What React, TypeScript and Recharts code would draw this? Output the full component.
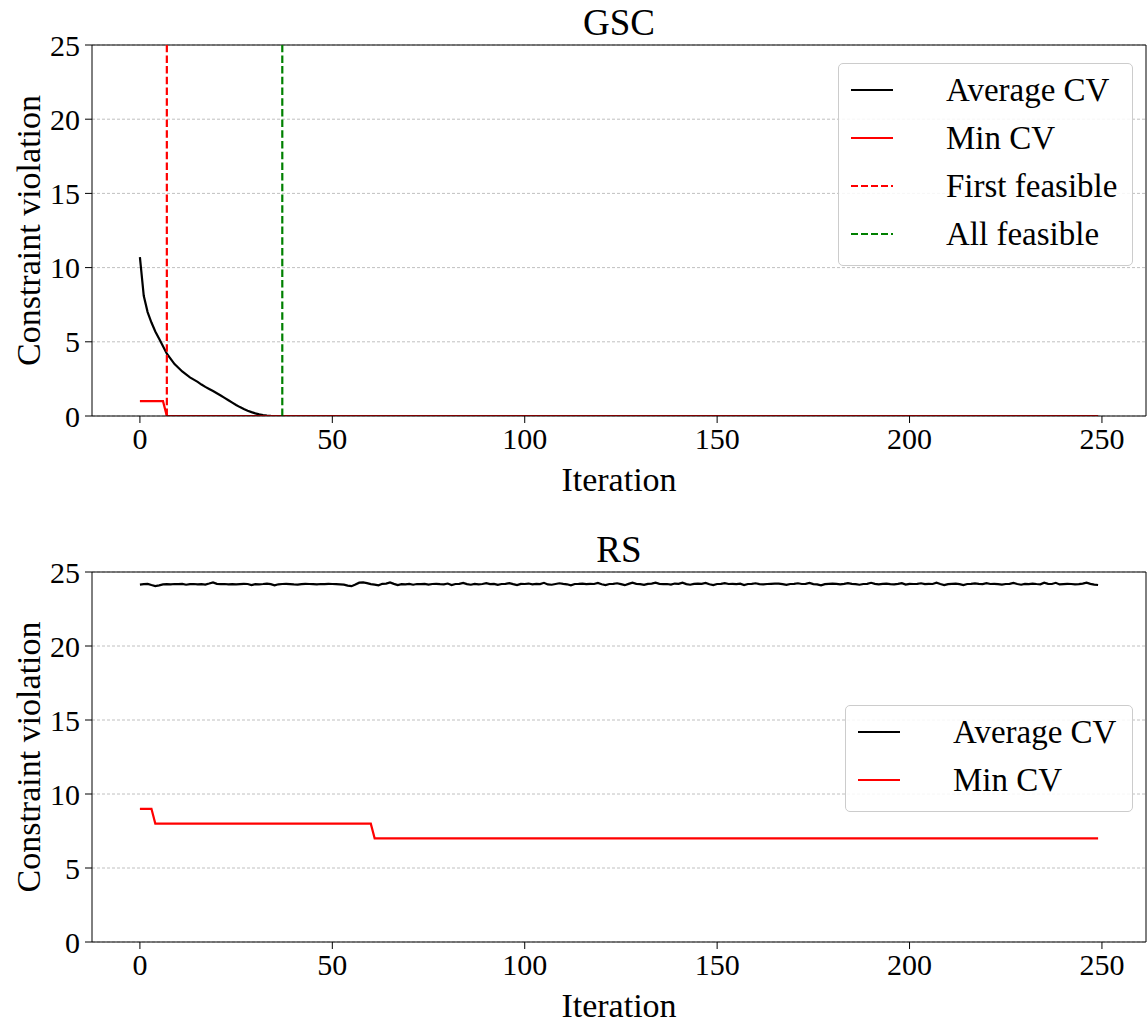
import React from "react"
import { LineChart, Line, XAxis, YAxis, CartesianGrid, ReferenceLine } from "recharts"

const FONT = "'Liberation Serif', 'DejaVu Serif', serif"

const xTicks = [0, 50, 100, 150, 200, 250]
const yTicks = [0, 5, 10, 15, 20, 25]
const xDomain = [-12.45, 261.45]

// GSC: average constraint violation, read per iteration until it reaches zero, then flat
const gscAvgIter = [0, 1, 2, 3, 4, 5, 6, 7, 8, 9, 10, 11, 12, 13, 14, 15, 16, 17, 18, 19, 20, 21, 22, 23, 24, 25, 26, 27, 28, 29, 30, 31, 32, 33, 34, 35, 249]
const gscAvgCv = [10.7, 8.1, 7.0, 6.3, 5.7, 5.2, 4.7, 4.2, 3.85, 3.5, 3.25, 3.0, 2.8, 2.6, 2.45, 2.3, 2.12, 1.96, 1.82, 1.68, 1.53, 1.38, 1.22, 1.06, 0.9, 0.74, 0.6, 0.47, 0.36, 0.26, 0.18, 0.11, 0.06, 0.03, 0.01, 0, 0]

// GSC: min CV breakpoints
const gscMinIter = [0, 6, 7, 249]
const gscMinCv = [1, 1, 0, 0]

const gscFirstFeasible = 7
const gscAllFeasible = 37

// RS: average CV per iteration (0..249)
const rsAvgCv = [
  24.15, 24.18, 24.2, 24.12, 24.05, 24.1, 24.16, 24.18, 24.17, 24.19, 24.18, 24.2, 24.14, 24.18, 24.19, 24.17, 24.18, 24.15, 24.22, 24.3, 24.2, 24.18, 24.19, 24.17, 24.18,
  24.16, 24.18, 24.2, 24.19, 24.12, 24.18, 24.17, 24.19, 24.22, 24.18, 24.1, 24.17, 24.19, 24.2, 24.18, 24.16, 24.15, 24.18, 24.2, 24.19, 24.18, 24.17, 24.19, 24.18, 24.2,
  24.19, 24.18, 24.17, 24.15, 24.08, 24.04, 24.15, 24.28, 24.3, 24.25, 24.18, 24.15, 24.1, 24.2, 24.22, 24.3, 24.2, 24.12, 24.18, 24.16, 24.2, 24.14, 24.19, 24.18, 24.2,
  24.15, 24.19, 24.2, 24.18, 24.17, 24.22, 24.12, 24.19, 24.2, 24.26, 24.18, 24.14, 24.2, 24.17, 24.19, 24.24, 24.18, 24.2, 24.13, 24.19, 24.2, 24.25, 24.18, 24.12, 24.2,
  24.19, 24.22, 24.17, 24.2, 24.18, 24.27, 24.16, 24.14, 24.19, 24.24, 24.2, 24.17, 24.1, 24.19, 24.2, 24.22, 24.18, 24.2, 24.19, 24.26, 24.17, 24.12, 24.19, 24.2, 24.24,
  24.18, 24.11, 24.2, 24.28, 24.2, 24.18, 24.13, 24.2, 24.22, 24.28, 24.2, 24.18, 24.19, 24.15, 24.22, 24.2, 24.28, 24.18, 24.14, 24.2, 24.22, 24.2, 24.26, 24.17, 24.12,
  24.19, 24.2, 24.25, 24.19, 24.2, 24.18, 24.21, 24.12, 24.19, 24.2, 24.24, 24.18, 24.17, 24.19, 24.2, 24.21, 24.22, 24.18, 24.13, 24.19, 24.2, 24.24, 24.19, 24.2, 24.26,
  24.18, 24.16, 24.1, 24.18, 24.2, 24.22, 24.2, 24.17, 24.2, 24.25, 24.2, 24.18, 24.14, 24.19, 24.2, 24.27, 24.2, 24.17, 24.2, 24.22, 24.18, 24.17, 24.2, 24.25, 24.15,
  24.2, 24.19, 24.2, 24.24, 24.18, 24.2, 24.19, 24.28, 24.19, 24.12, 24.18, 24.2, 24.22, 24.18, 24.12, 24.19, 24.2, 24.23, 24.2, 24.18, 24.24, 24.19, 24.2, 24.18, 24.15,
  24.19, 24.2, 24.26, 24.19, 24.14, 24.2, 24.18, 24.22, 24.19, 24.17, 24.28, 24.2, 24.19, 24.27, 24.16, 24.18, 24.2, 24.19, 24.17, 24.18, 24.22, 24.28, 24.2, 24.15, 24.12,
]

// RS: min CV breakpoints
const rsMinIter = [0, 3, 4, 60, 61, 249]
const rsMinCv = [9, 9, 8, 8, 7, 7]

const gscLegend = [
  { label: "Average CV", color: "#000000", dashed: false },
  { label: "Min CV", color: "#ff0000", dashed: false },
  { label: "First feasible", color: "#ff0000", dashed: true },
  { label: "All feasible", color: "#008000", dashed: true },
]
const rsLegend = gscLegend.slice(0, 2)

const toPoints = (iters: number[], vals: number[]) => iters.map((it, i) => ({ iteration: it, cv: vals[i] }))

const gscAvg = toPoints(gscAvgIter, gscAvgCv)
const gscMin = toPoints(gscMinIter, gscMinCv)
const rsAvg = toPoints(rsAvgCv.map((_, i) => i), rsAvgCv)
const rsMin = toPoints(rsMinIter, rsMinCv)

type Entry = { label: string; color: string; dashed: boolean }

function LegendBox({ entries, top, left, width }: { entries: Entry[]; top: number; left: number; width: number }) {
  return (
    <div
      style={{
        position: "absolute",
        top,
        left,
        width,
        boxSizing: "border-box",
        border: "1px solid #cccccc",
        borderRadius: 5,
        background: "rgba(255,255,255,0.85)",
        padding: "2px 0 7px 12px",
        fontFamily: FONT,
      }}
    >
      {entries.map((e) => (
        <div key={e.label} style={{ display: "flex", alignItems: "center", height: 48 }}>
          <svg width={42} height={6} style={{ marginRight: 53, flex: "none" }}>
            <line x1={0} y1={3} x2={42} y2={3} stroke={e.color} strokeWidth={2.2} strokeDasharray={e.dashed ? "7 3" : undefined} />
          </svg>
          <span style={{ fontSize: 33, color: "#000", whiteSpace: "nowrap" }}>{e.label}</span>
        </div>
      ))}
    </div>
  )
}

const tickStyle = { fontSize: 30, fill: "#000", fontFamily: FONT }

const xLabel = ({ viewBox }: any) => (
  <text x={viewBox.x + viewBox.width / 2} y={viewBox.y + 75} textAnchor="middle" fontSize={34} fontFamily={FONT} fill="#000">
    Iteration
  </text>
)

const yLabel = ({ viewBox }: any) => {
  const cx = 28
  const cy = viewBox.y + viewBox.height / 2
  return (
    <text x={cx} y={cy} transform={`rotate(-90, ${cx}, ${cy})`} textAnchor="middle" dominantBaseline="central" fontSize={34} fontFamily={FONT} fill="#000">
      Constraint violation
    </text>
  )
}

function Panel({
  height,
  margin,
  avg,
  min,
  vlines,
}: {
  height: number
  margin: { top: number; right: number; left: number; bottom: number }
  avg: { iteration: number; cv: number }[]
  min: { iteration: number; cv: number }[]
  vlines: { x: number; color: string }[]
}) {
  return (
    <LineChart width={1148} height={height} margin={margin}>
      <CartesianGrid vertical={false} horizontal stroke="#b0b0b0" strokeDasharray="3 2" strokeWidth={0.8} />
      <XAxis
        type="number"
        dataKey="iteration"
        domain={xDomain}
        ticks={xTicks}
        allowDataOverflow
        height={70}
        tick={tickStyle}
        tickSize={7}
        tickMargin={5}
        stroke="#000"
        tickLine={{ stroke: "#000" }}
        label={xLabel}
      />
      <YAxis
        type="number"
        domain={[0, 25]}
        ticks={yTicks}
        allowDataOverflow
        interval={0}
        width={80}
        tick={tickStyle}
        tickSize={7}
        tickMargin={5}
        stroke="#000"
        tickLine={{ stroke: "#000" }}
        label={yLabel}
      />
      <ReferenceLine y={25} stroke="#000" strokeWidth={1} />
      <ReferenceLine x={261.45} stroke="#000" strokeWidth={1} />
      <Line data={avg} dataKey="cv" type="linear" stroke="#000000" strokeWidth={2.2} dot={false} isAnimationActive={false} />
      <Line data={min} dataKey="cv" type="linear" stroke="#ff0000" strokeWidth={2.2} dot={false} isAnimationActive={false} />
      {vlines.map((v) => (
        <ReferenceLine key={v.x} x={v.x} stroke={v.color} strokeWidth={2.2} strokeDasharray="7.5 3.2" />
      ))}
    </LineChart>
  )
}

export default function App() {
  return (
    <div style={{ position: "absolute", left: 0, top: 0, width: 1148, height: 1023, background: "#fff", fontFamily: FONT, overflow: "hidden" }}>
      <div style={{ position: "absolute", left: 0, top: 0 }}>
        <Panel
          height={510}
          margin={{ top: 45, right: 2, left: 12, bottom: 24 }}
          avg={gscAvg}
          min={gscMin}
          vlines={[
            { x: gscFirstFeasible, color: "#ff0000" },
            { x: gscAllFeasible, color: "#008000" },
          ]}
        />
      </div>
      <div style={{ position: "absolute", left: 0, top: 526 }}>
        <Panel height={497} margin={{ top: 46, right: 2, left: 12, bottom: 11 }} avg={rsAvg} min={rsMin} vlines={[]} />
      </div>
      <LegendBox entries={gscLegend} top={63} left={838} width={295} />
      <LegendBox entries={rsLegend} top={705} left={845} width={288} />
      <svg width={1148} height={1023} style={{ position: "absolute", left: 0, top: 0, pointerEvents: "none" }}>
        <text x={619} y={35} textAnchor="middle" fontSize={37} fontFamily={FONT} fill="#000">GSC</text>
        <text x={619} y={562} textAnchor="middle" fontSize={37} fontFamily={FONT} fill="#000">RS</text>
      </svg>
    </div>
  )
}
